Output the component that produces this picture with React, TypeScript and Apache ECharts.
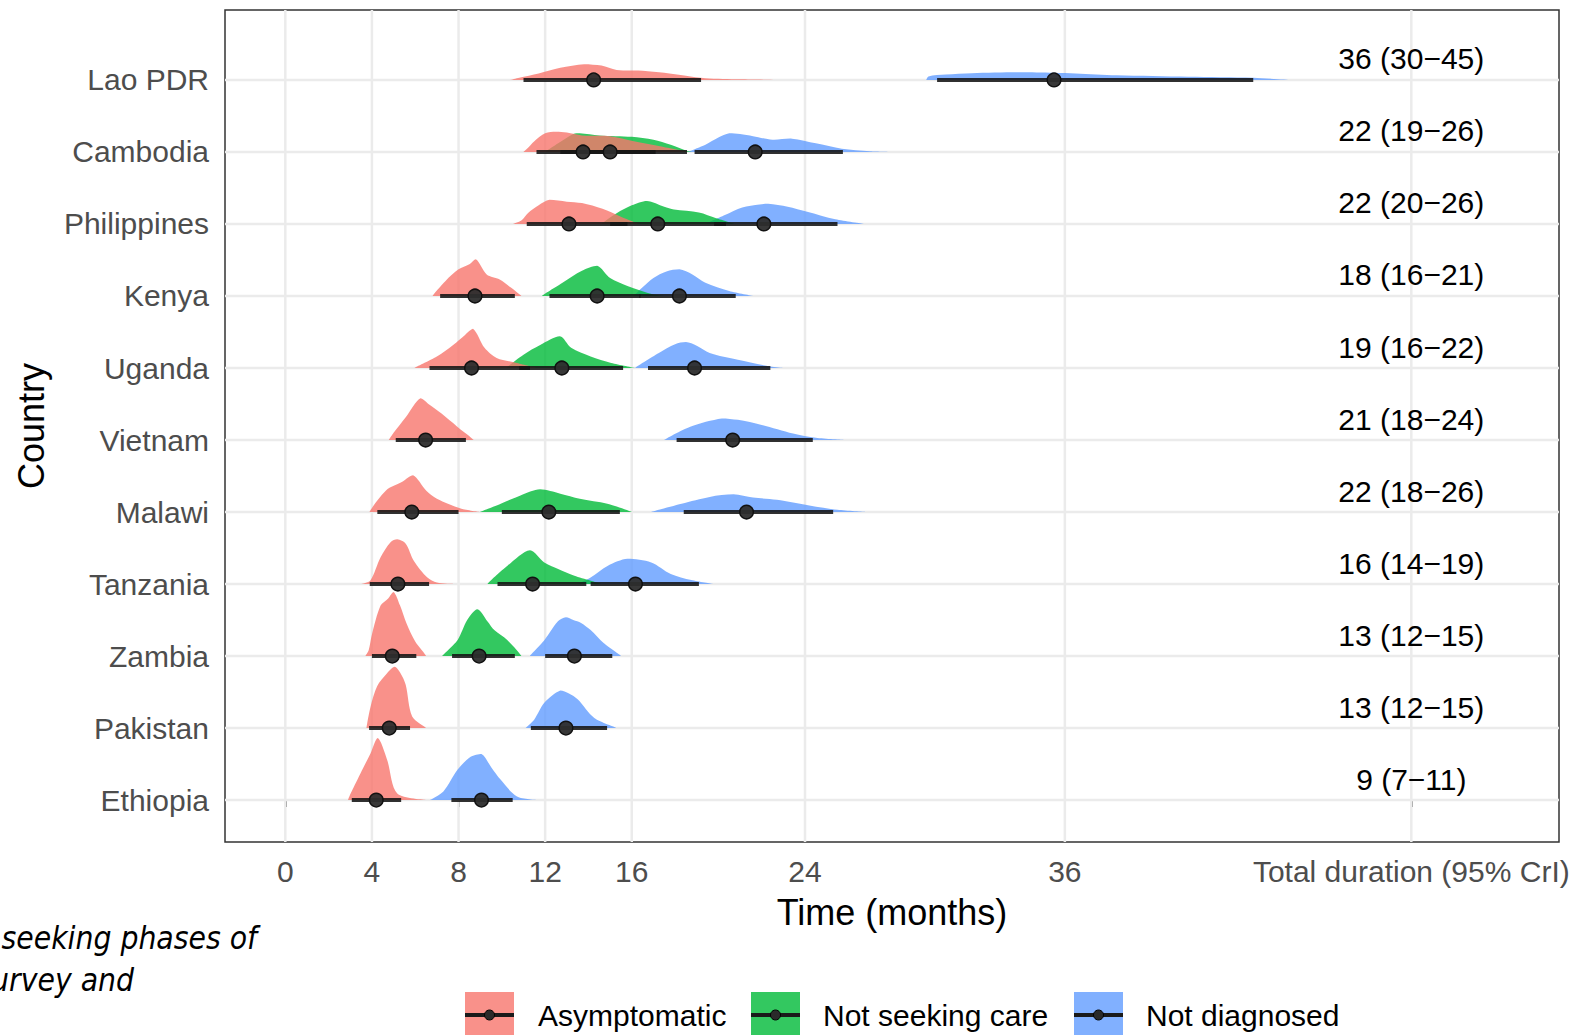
import React, { useEffect, useRef } from "react";
import * as echarts from "echarts";

// Countries, bottom (y = 0) to top (y = 10)
const countries = ["Ethiopia", "Pakistan", "Zambia", "Tanzania", "Malawi", "Vietnam", "Uganda", "Kenya", "Philippines", "Cambodia", "Lao PDR"];

const totalLabels = ["9 (7\u221211)", "13 (12\u221215)", "13 (12\u221215)", "16 (14\u221219)", "22 (18\u221226)", "21 (18\u221224)", "19 (16\u221222)", "18 (16\u221221)", "22 (20\u221226)", "22 (19\u221226)", "36 (30\u221245)"];
const totalPosition = 52;

const xBreaks = [0, 4, 8, 12, 16, 24, 36, 52];
const xBreakLabels = ["0", "4", "8", "12", "16", "24", "36", "Total duration (95% CrI)"];

// Asymptomatic phase
const asymMedian = [4.2, 4.8, 4.94, 5.2, 5.84, 6.48, 8.6, 8.76, 13.1, 13.75, 14.24];
const asymLower = [3.07, 3.87, 4.0, 3.9, 4.25, 5.1, 6.66, 7.15, 11.15, 11.6, 11.0];
const asymUpper = [5.35, 5.76, 6.05, 6.64, 8.0, 8.34, 11.3, 10.6, 15.8, 17.1, 19.2];
const asymDensity: number[][][] = [
  [[2.9, 0], [3.47, 0.37], [3.94, 0.65], [4.27, 0.86], [4.7, 0.56], [5.17, 0.09], [6.5, 0]],
  [[3.75, 0], [3.94, 0.3], [4.24, 0.58], [4.7, 0.76], [5.05, 0.85], [5.32, 0.76], [5.56, 0.6], [5.86, 0.16], [6.5, 0]],
  [[3.7, 0], [3.85, 0.08], [4.0, 0.3], [4.4, 0.7], [4.75, 0.8], [5.0, 0.89], [5.3, 0.7], [5.6, 0.45], [6.0, 0.2], [6.5, 0]],
  [[3.5, 0], [3.93, 0.05], [4.4, 0.37], [4.86, 0.58], [5.17, 0.62], [5.56, 0.56], [5.94, 0.32], [6.56, 0.09], [7.0, 0.02], [7.8, 0]],
  [[3.89, 0], [4.65, 0.3], [5.4, 0.42], [5.9, 0.51], [6.5, 0.3], [7.0, 0.185], [8.1, 0.05], [9.0, 0]],
  [[4.78, 0], [5.0, 0.1], [5.57, 0.32], [6.24, 0.58], [6.66, 0.49], [7.2, 0.37], [7.94, 0.185], [8.7, 0]],
  [[5.97, 0], [7.0, 0.16], [7.75, 0.32], [8.3, 0.46], [8.67, 0.545], [9.2, 0.28], [9.76, 0.14], [10.7, 0.07], [11.6, 0]],
  [[6.8, 0], [7.4, 0.21], [8.0, 0.37], [8.5, 0.44], [8.8, 0.51], [9.3, 0.3], [9.9, 0.23], [10.4, 0.12], [10.9, 0]],
  [[10.5, 0], [10.9, 0.05], [11.2, 0.15], [11.7, 0.26], [12.2, 0.335], [13.0, 0.31], [13.7, 0.29], [14.65, 0.21], [15.5, 0.1], [16.3, 0]],
  [[11.0, 0], [11.15, 0.04], [11.5, 0.15], [12.0, 0.26], [12.5, 0.28], [13.0, 0.27], [13.7, 0.23], [15.0, 0.22], [16.1, 0.15], [17.3, 0.08], [18.6, 0]],
  [[10.4, 0], [10.8, 0.03], [11.7, 0.09], [12.7, 0.17], [13.8, 0.22], [14.6, 0.2], [15.3, 0.14], [16.5, 0.13], [17.5, 0.1], [18.5, 0.06], [19.4, 0.025], [21.0, 0.01], [23.0, 0]],
];

// Not seeking care phase
const careMedian = [null, null, 8.95, 11.42, 12.17, null, 12.77, 14.4, 17.2, 15.0, null];
const careLower = [null, null, 7.7, 9.8, 10.0, null, 10.8, 12.2, 15.0, 12.7, null];
const careUpper = [null, null, 10.6, 13.9, 15.45, null, 15.6, 16.4, 20.35, 18.55, null];
const careDensity: (number[][] | null)[] = [
  null,
  null,
  [[7.25, 0], [7.95, 0.22], [8.4, 0.5], [8.87, 0.65], [9.34, 0.48], [9.65, 0.36], [10.26, 0.22], [10.9, 0]],
  [[9.34, 0], [10.26, 0.255], [11.3, 0.47], [11.96, 0.3], [12.6, 0.21], [13.35, 0.115], [14.6, 0]],
  [[9.0, 0], [9.95, 0.115], [10.86, 0.23], [11.77, 0.315], [12.7, 0.255], [13.6, 0.185], [14.87, 0.115], [16.0, 0]],
  null,
  [[10.2, 0], [11.0, 0.185], [11.77, 0.32], [12.68, 0.44], [13.2, 0.28], [14.1, 0.16], [15.05, 0.07], [16.15, 0]],
  [[11.85, 0], [12.8, 0.185], [13.7, 0.35], [14.4, 0.42], [15.0, 0.25], [15.8, 0.14], [17.0, 0.02], [17.5, 0]],
  [[14.6, 0], [15.3, 0.15], [16.0, 0.26], [16.7, 0.32], [17.5, 0.24], [17.95, 0.2], [19.1, 0.16], [19.9, 0.08], [20.75, 0]],
  [[12.0, 0], [12.6, 0.12], [13.3, 0.25], [13.6, 0.26], [14.5, 0.23], [16.0, 0.21], [17.0, 0.17], [17.8, 0.1], [18.6, 0.01], [18.8, 0]],
  null,
];

// Not diagnosed phase
const diagMedian = [9.06, 12.96, 13.35, 16.17, 21.3, 20.66, 18.9, 18.2, 22.1, 21.7, 35.5];
const diagLower = [7.67, 11.34, 12.0, 14.1, 18.4, 18.07, 16.75, 16.35, 19.8, 18.9, 30.1];
const diagUpper = [10.5, 14.86, 15.1, 19.1, 25.3, 24.36, 22.4, 20.8, 25.5, 25.75, 44.7];
const diagDensity: number[][][] = [
  [[6.68, 0], [7.3, 0.12], [7.95, 0.42], [8.56, 0.6], [9.06, 0.64], [9.5, 0.46], [9.95, 0.28], [10.7, 0.05], [11.65, 0]],
  [[11.1, 0], [11.5, 0.12], [11.96, 0.35], [12.7, 0.52], [13.1, 0.48], [13.5, 0.4], [14.27, 0.14], [15.3, 0]],
  [[11.3, 0], [11.96, 0.22], [12.58, 0.48], [12.96, 0.54], [13.3, 0.5], [13.66, 0.46], [14.1, 0.36], [14.7, 0.18], [15.5, 0]],
  [[13.5, 0], [14.1, 0.09], [14.9, 0.255], [15.8, 0.35], [16.9, 0.3], [17.8, 0.14], [18.75, 0.055], [19.75, 0]],
  [[16.9, 0], [18.3, 0.115], [19.6, 0.21], [20.7, 0.245], [21.6, 0.2], [22.7, 0.17], [24.2, 0.09], [25.5, 0.03], [26.8, 0]],
  [[17.5, 0], [18.7, 0.185], [20.16, 0.3], [20.9, 0.28], [22.0, 0.21], [23.45, 0.09], [24.5, 0.03], [25.8, 0]],
  [[16.15, 0], [17.25, 0.21], [18.0, 0.33], [18.5, 0.36], [19.0, 0.31], [19.6, 0.21], [20.9, 0.115], [22.4, 0.02], [23.0, 0]],
  [[16.1, 0], [16.5, 0.12], [17.0, 0.25], [17.6, 0.34], [18.2, 0.37], [18.8, 0.3], [19.4, 0.185], [20.5, 0.07], [21.6, 0]],
  [[19.4, 0], [20.3, 0.125], [21.1, 0.23], [21.9, 0.27], [22.3, 0.28], [23.2, 0.24], [24.1, 0.17], [25.4, 0.065], [26.7, 0]],
  [[18.6, 0], [19.4, 0.1], [20.0, 0.2], [20.5, 0.26], [21.0, 0.25], [21.6, 0.22], [22.5, 0.17], [23.4, 0.185], [24.5, 0.12], [25.7, 0.045], [27.0, 0.01], [28.0, 0]],
  [[29.6, 0], [29.7, 0.05], [30.5, 0.075], [31.7, 0.095], [33.9, 0.107], [35.5, 0.1], [36.5, 0.09], [38.4, 0.065], [41.7, 0.045], [44.7, 0.03], [46.4, 0]],
];

const phaseNames = ["Asymptomatic", "Not seeking care", "Not diagnosed"];
const phaseColors = ["rgba(248,118,109,0.8)", "rgba(0,186,56,0.8)", "rgba(97,156,255,0.8)"];

const FONT = "'Liberation Sans', Arial, Helvetica, sans-serif";

function buildData(med: (number | null)[], lo: (number | null)[], hi: (number | null)[]) {
  const out: number[][] = [];
  med.forEach((m, i) => {
    if (m !== null && lo[i] !== null && hi[i] !== null) out.push([m, i, lo[i] as number, hi[i] as number]);
  });
  return out;
}

function makeRender(dens: (number[][] | null)[], color: string) {
  return (params: any, api: any) => {
    const i = api.value(1);
    const pts = dens[i];
    if (!pts) return null;
    const poly = pts.map(([x, h]) => api.coord([x, i + h]));
    const base = api.coord([pts[0][0], i]);
    const lo = api.coord([api.value(2), i]);
    const hi = api.coord([api.value(3), i]);
    const m = api.coord([api.value(0), i]);
    return {
      type: "group",
      children: [
        {
          type: "polygon",
          z2: 0,
          shape: { points: poly, smooth: 0.3, smoothConstraint: [[base[0], base[1]], [base[0], base[1]]] },
          style: { fill: color },
        },
        {
          type: "line",
          z2: 10,
          shape: { x1: lo[0], y1: lo[1], x2: hi[0], y2: hi[1] },
          style: { stroke: "rgba(20,20,20,0.88)", lineWidth: 4 },
        },
        {
          type: "circle",
          z2: 20,
          shape: { cx: m[0], cy: m[1], r: 6.8 },
          style: { fill: "rgba(45,45,45,0.95)", stroke: "#111", lineWidth: 1.5 },
        },
      ],
    };
  };
}

const App: React.FC = () => {
  const ref = useRef<HTMLDivElement>(null);

  useEffect(() => {
    if (!ref.current) return;
    const chart = echarts.init(ref.current, undefined, { renderer: "svg" });

    const gridData: number[][] = [];
    xBreaks.forEach((v) => gridData.push([0, v]));
    countries.forEach((_, i) => gridData.push([1, i]));

    const legendBoxX = [465, 751, 1074];
    const legendTextX = [538, 823, 1146];
    const legendGraphics: any[] = [];
    phaseNames.forEach((name, k) => {
      const x = legendBoxX[k];
      legendGraphics.push(
        { type: "rect", shape: { x, y: 992, width: 49, height: 48 }, style: { fill: phaseColors[k] } },
        { type: "line", shape: { x1: x, y1: 1015, x2: x + 49, y2: 1015 }, style: { stroke: "#1a1a1a", lineWidth: 4 } },
        { type: "circle", shape: { cx: x + 24.5, cy: 1015, r: 5 }, style: { fill: "#2a2a2a", stroke: "#000", lineWidth: 1 } },
        {
          type: "text",
          x: legendTextX[k],
          y: 1015,
          style: { text: name, fill: "#000", font: `30px ${FONT}`, textAlign: "left", textVerticalAlign: "middle" },
        }
      );
    });

    const captionFont = "italic 31.5px 'Liberation Sans Narrow', 'DejaVu Sans Condensed', sans-serif";

    chart.setOption({
      animation: false,
      backgroundColor: "#fff",
      grid: {
        left: 225,
        right: 16,
        top: 10,
        height: 832,
        show: true,
        borderColor: "#333",
        borderWidth: 1.5,
        backgroundColor: "transparent",
      },
      xAxis: {
        type: "value",
        min: -2.785,
        max: 58.82,
        name: "Time (months)",
        nameLocation: "middle",
        nameGap: 52,
        nameTextStyle: { fontSize: 36, color: "#000", fontFamily: FONT },
        axisLine: { show: false },
        splitLine: { show: false },
        axisTick: { show: true, length: 7, customValues: xBreaks, lineStyle: { color: "#333", width: 1.5 } },
        axisLabel: {
          customValues: xBreaks,
          margin: 14,
          fontSize: 30,
          color: "#4D4D4D",
          fontFamily: FONT,
          formatter: (v: number) => {
            const k = xBreaks.indexOf(v);
            return k >= 0 ? xBreakLabels[k] : "";
          },
        },
      },
      yAxis: {
        type: "value",
        min: -0.583,
        max: 10.972,
        name: "Country",
        nameLocation: "middle",
        nameGap: 176,
        nameTextStyle: { fontSize: 36, color: "#000", fontFamily: FONT },
        axisLine: { show: false },
        splitLine: { show: false },
        axisTick: { show: true, length: 7, customValues: countries.map((_, i) => i), lineStyle: { color: "#333", width: 1.5 } },
        axisLabel: {
          customValues: countries.map((_, i) => i),
          margin: 16,
          fontSize: 30,
          color: "#4D4D4D",
          fontFamily: FONT,
          formatter: (v: number) => countries[Math.round(v)] ?? "",
        },
      },
      graphic: [
        ...legendGraphics,
        {
          type: "text",
          x: 257,
          y: 938,
          style: { text: "seeking phases of", fill: "#000", font: captionFont, textAlign: "right", textVerticalAlign: "middle" },
        },
        {
          type: "text",
          x: 134,
          y: 980,
          style: { text: "urvey and", fill: "#000", font: captionFont, textAlign: "right", textVerticalAlign: "middle" },
        },
      ],
      series: [
        {
          type: "custom",
          name: "grid",
          silent: true,
          z: 1,
          data: gridData,
          renderItem: (params: any, api: any) => {
            const cs = params.coordSys;
            const kind = api.value(0);
            const v = api.value(1);
            if (kind === 0) {
              const p = api.coord([v, 0]);
              return { type: "line", shape: { x1: p[0], y1: cs.y, x2: p[0], y2: cs.y + cs.height }, style: { stroke: "#EBEBEB", lineWidth: 2.5 } };
            }
            const p = api.coord([0, v]);
            return { type: "line", shape: { x1: cs.x, y1: p[1], x2: cs.x + cs.width, y2: p[1] }, style: { stroke: "#EBEBEB", lineWidth: 2.5 } };
          },
        },
        {
          type: "custom",
          name: phaseNames[2],
          z: 2,
          data: buildData(diagMedian, diagLower, diagUpper),
          renderItem: makeRender(diagDensity, phaseColors[2]),
        },
        {
          type: "custom",
          name: phaseNames[1],
          z: 2,
          data: buildData(careMedian, careLower, careUpper),
          renderItem: makeRender(careDensity, phaseColors[1]),
        },
        {
          type: "custom",
          name: phaseNames[0],
          z: 2,
          data: buildData(asymMedian, asymLower, asymUpper),
          renderItem: makeRender(asymDensity, phaseColors[0]),
        },
        {
          type: "custom",
          name: "Total duration",
          z: 3,
          data: countries.map((_, i) => [totalPosition, i]),
          renderItem: (params: any, api: any) => {
            const i = api.value(1);
            const p = api.coord([api.value(0), i]);
            return {
              type: "text",
              x: p[0],
              y: p[1] - 21,
              style: { text: totalLabels[i], fill: "#000", font: `30px ${FONT}`, textAlign: "center", textVerticalAlign: "middle" },
            };
          },
        },
      ],
    });

    return () => chart.dispose();
  }, []);

  return (
    <div
      ref={ref}
      style={{ position: "fixed", left: 0, top: 0, width: 1575, height: 1035, background: "#fff" }}
    />
  );
};

export default App;
